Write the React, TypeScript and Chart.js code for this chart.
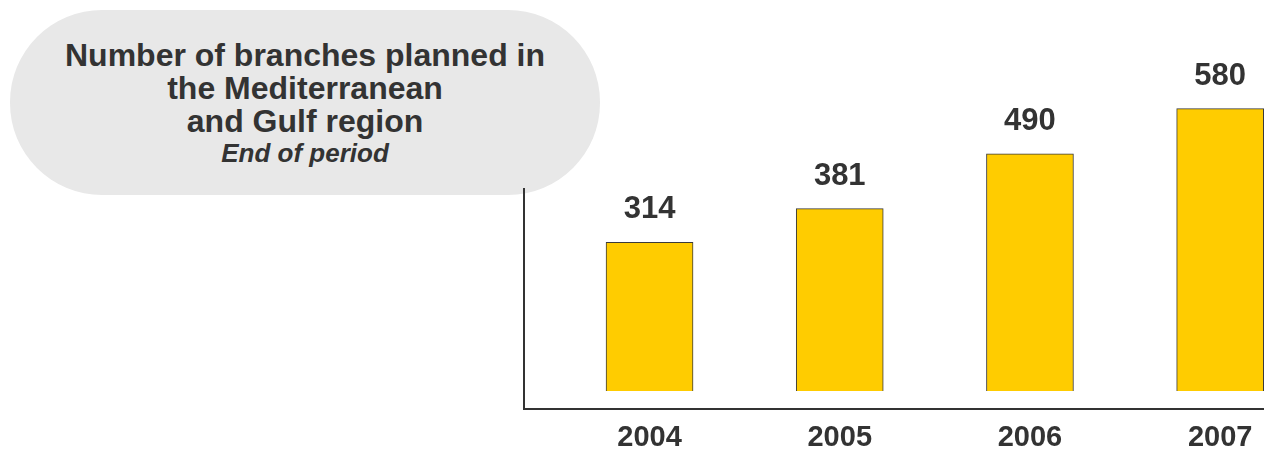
import React, { useEffect, useRef } from "react";
import { Chart, registerables } from "chart.js";

Chart.register(...registerables);

const years = ["2004", "2005", "2006", "2007"];
const branches = [314, 381, 490, 580];
const barBase = 18;
const titleLines = ["Number of branches planned in", "the Mediterranean", "and Gulf region"];
const subtitle = "End of period";

const FONT = "'Liberation Sans', Arial, sans-serif";
const TEXT = "#333333";

const labelPlugin = {
  id: "valueLabels",
  afterDatasetsDraw(chart: any) {
    const ctx = chart.ctx;
    const meta = chart.getDatasetMeta(0);
    ctx.save();
    ctx.font = `bold 31px ${FONT}`;
    ctx.fillStyle = TEXT;
    ctx.textAlign = "center";
    ctx.textBaseline = "alphabetic";
    meta.data.forEach((bar: any, i: number) => {
      ctx.fillText(String(branches[i]), bar.x, bar.y - 24);
    });
    ctx.restore();
  },
};

export default function App() {
  const ref = useRef<HTMLCanvasElement>(null);
  useEffect(() => {
    const canvas = ref.current!;
    const chart = new Chart(canvas, {
      type: "bar",
      data: {
        datasets: [
          {
            data: branches.map((v, i) => ({ x: i, y: v })),
            base: barBase,
            backgroundColor: "#FFCC00",
            borderColor: "#3a3a3a",
            borderWidth: 1,
            barThickness: 87,
            clip: false as any,
          } as any,
        ],
      },
      options: {
        responsive: false,
        animation: false,
        events: [],
        layout: { padding: { left: 524, top: 189, right: 0, bottom: 0 } },
        plugins: { legend: { display: false }, tooltip: { enabled: false } },
        scales: {
          x: {
            type: "linear",
            offset: false,
            min: -0.66,
            max: 3.63,
            afterBuildTicks: (scale: any) => {
              scale.ticks = years.map((_, i) => ({ value: i }));
            },
            grid: { display: false, drawTicks: false, offset: false },
            border: { display: true, color: "#333333", width: 2 },
            ticks: {
              padding: 14,
              color: TEXT,
              font: { family: FONT, size: 29, weight: "bold", lineHeight: 1 },
              callback: (v: any) => years[v] ?? "",
              maxRotation: 0,
              autoSkip: false,
            },
          },
          y: {
            min: -18,
            max: 420,
            grid: { display: false, drawTicks: false },
            border: { display: true, color: "#333333", width: 2 },
            ticks: { display: false },
          },
        },
      } as any,
      plugins: [labelPlugin],
    });
    return () => chart.destroy();
  }, []);

  return (
    <div style={{ position: "fixed", left: 0, top: 0, width: 1264, height: 449, overflow: "hidden", background: "#fff" }}>
      <div
        style={{
          position: "absolute",
          left: 10,
          top: 10,
          width: 590,
          height: 185,
          borderRadius: 92,
          background: "#e8e8e8",
          textAlign: "center",
          fontFamily: FONT,
          color: TEXT,
          boxSizing: "border-box",
          paddingTop: 29,
        }}
      >
        {titleLines.map((t) => (
          <div key={t} style={{ fontSize: 32, fontWeight: "bold", lineHeight: "33px", whiteSpace: "nowrap" }}>
            {t}
          </div>
        ))}
        <div style={{ fontSize: 26, fontWeight: "bold", fontStyle: "italic", lineHeight: "31px" }}>{subtitle}</div>
      </div>
      <canvas
        ref={ref}
        width={1340}
        height={466}
        style={{ position: "absolute", left: 0, top: 0, width: 1340, height: 466 }}
      />
    </div>
  );
}
